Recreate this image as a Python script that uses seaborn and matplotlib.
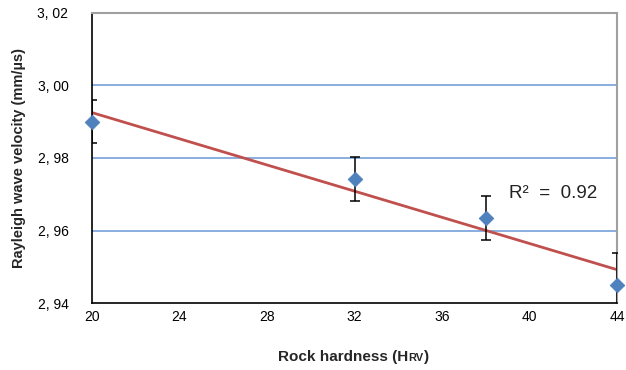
import numpy as np
import pandas as pd
import matplotlib
matplotlib.use('Agg')
import matplotlib.pyplot as plt
import seaborn as sns
from matplotlib.offsetbox import TextArea, HPacker, AnchoredOffsetbox

# data
hardness = [20, 32, 38, 44]
velocity = [2.990, 2.9742, 2.9634, 2.945]
err = [0.006, 0.006, 0.006, 0.0088]
r2_label = 'R²  =  0.92'
yticks = [2.94, 2.96, 2.98, 3.00, 3.02]
xticks = [20, 24, 28, 32, 36, 40, 44]

df = pd.DataFrame({'hardness': hardness, 'velocity': velocity})

sns.set_style('white')
plt.rcParams['font.family'] = ['Liberation Sans', 'DejaVu Sans']

fig = plt.figure(figsize=(6.26, 3.70), dpi=100)
ax = fig.add_axes([0.147, 0.181, 0.8386, 0.784])

ax.set_xlim(20, 44)
ax.set_ylim(2.94, 3.02)

# blue grid lines
for y in [2.96, 2.98, 3.00]:
    ax.axhline(y, color='#7fa7dc', lw=1.3, zorder=1)

# trendline
sns.regplot(data=df, x='hardness', y='velocity', scatter=False, ci=None,
            line_kws={'color': '#c0504d', 'lw': 2.0, 'zorder': 2}, ax=ax)

# error bars
ax.errorbar(hardness, velocity, yerr=err, fmt='none', ecolor='black',
            elinewidth=1.1, capsize=3.5, capthick=1.1, zorder=3)

# markers
sns.scatterplot(data=df, x='hardness', y='velocity', marker='D', s=55,
                color='#4f81bd', edgecolor='#4f81bd', zorder=4,
                clip_on=False, ax=ax)

ax.text(39.05, 2.9703, r2_label, fontsize=13.5, va='center', ha='left', color='#222222')

ax.set_xticks(xticks)
ax.set_yticks(yticks)
ax.set_yticklabels([f'{t:.2f}'.replace('.', ', ') for t in yticks])
ax.tick_params(axis='both', direction='in', length=4, width=1, labelsize=10,
               colors='black', pad=5)
ax.tick_params(axis='y', length=0, pad=17)

for s in ['left', 'bottom']:
    ax.spines[s].set_color('black')
    ax.spines[s].set_linewidth(1.2)
for s in ['top', 'right']:
    ax.spines[s].set_color('#a0a0a0')
    ax.spines[s].set_linewidth(1.5)

ax.set_xlabel('')
ax.set_ylabel('Rayleigh wave velocity (mm/µs)', fontsize=10.5, fontweight='bold',
              labelpad=8)

# x label with small caps subscript
t1 = TextArea('Rock hardness (H', textprops=dict(fontsize=11, fontweight='bold'))
t2 = TextArea('RV', textprops=dict(fontsize=8, fontweight='bold'))
t3 = TextArea(')', textprops=dict(fontsize=11, fontweight='bold'))
box = HPacker(children=[t1, t2, t3], align='baseline', pad=0, sep=0)
anch = AnchoredOffsetbox(loc='center', child=box, frameon=False,
                         bbox_to_anchor=(0.565, 0.035), bbox_transform=fig.transFigure,
                         borderpad=0)
fig.add_artist(anch)

fig.savefig('out.png', dpi=100)
